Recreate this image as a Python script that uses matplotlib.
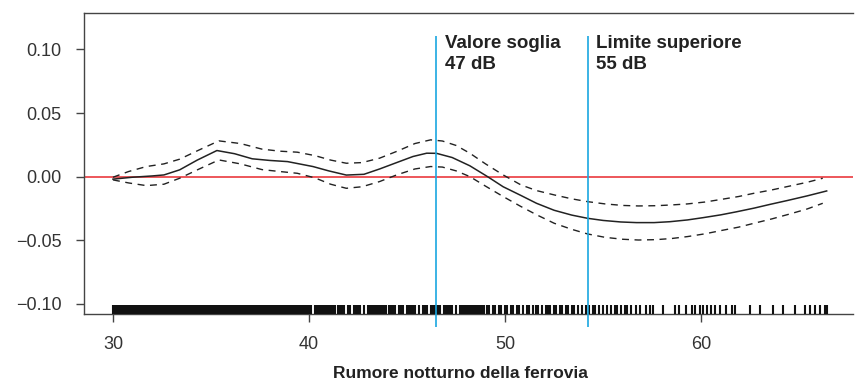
import matplotlib
matplotlib.use('Agg')
import matplotlib.pyplot as plt

plt.rcParams['font.family'] = ['Liberation Sans', 'DejaVu Sans']

# smoothed effect of night-time railway noise, with confidence band
fit_x = [30.0, 31.0, 32.0, 32.6, 33.4, 34.3, 35.3, 36.2, 37.1, 38.0, 38.9, 39.5, 40.2, 41.0, 41.9,
         42.8, 43.6, 44.5, 45.3, 46.0, 46.5, 47.3, 48.2, 49.1, 49.9, 50.8, 51.6, 52.5, 53.4, 54.2,
         55.0, 55.9, 56.7, 57.6, 58.4, 59.3, 60.1, 61.0, 61.8, 62.7, 63.5, 64.4, 65.4, 66.4]
fit_y = [-0.0020, -0.0005, 0.0005, 0.0013, 0.0053, 0.0130, 0.0205, 0.0180, 0.0140, 0.0127, 0.0118,
         0.0100, 0.0079, 0.0045, 0.0012, 0.0018, 0.0060, 0.0112, 0.0158, 0.0184, 0.0183, 0.0150,
         0.0085, 0.0000, -0.0080, -0.0148, -0.0210, -0.0265, -0.0303, -0.0328, -0.0345, -0.0357,
         -0.0362, -0.0362, -0.0355, -0.0341, -0.0323, -0.0301, -0.0277, -0.0248, -0.0219, -0.0188,
         -0.0152, -0.0113]

band_x = [30.0, 30.8, 31.7, 32.6, 33.4, 34.4, 35.4, 36.5, 37.6, 38.5, 39.4, 40.3, 41.1, 41.9, 42.7,
          43.6, 44.5, 45.4, 46.2, 46.8, 47.5, 48.2, 49.0, 49.9, 50.8, 51.6, 52.5, 53.4, 54.2, 55.1,
          56.0, 56.8, 57.7, 58.5, 59.3, 60.2, 61.0, 61.9, 62.7, 63.6, 64.5, 65.4, 66.2]
upper_y = [-0.0005, 0.0040, 0.0079, 0.0100, 0.0137, 0.0210, 0.0281, 0.0260, 0.0216, 0.0200, 0.0192,
           0.0165, 0.0130, 0.0105, 0.0110, 0.0145, 0.0200, 0.0260, 0.0289, 0.0280, 0.0245, 0.0184,
           0.0100, 0.0013, -0.0065, -0.0110, -0.0144, -0.0175, -0.0197, -0.0215, -0.0227, -0.0231,
           -0.0229, -0.0223, -0.0215, -0.0200, -0.0180, -0.0157, -0.0131, -0.0105, -0.0075, -0.0045,
           -0.0013]
lower_y = [-0.0026, -0.0050, -0.0071, -0.0060, -0.0013, 0.0060, 0.0131, 0.0100, 0.0055, 0.0040,
           0.0026, -0.0010, -0.0060, -0.0092, -0.0080, -0.0039, 0.0015, 0.0060, 0.0079, 0.0075,
           0.0045, 0.0000, -0.0075, -0.0157, -0.0235, -0.0300, -0.0367, -0.0415, -0.0451, -0.0478,
           -0.0493, -0.0499, -0.0496, -0.0487, -0.0472, -0.0450, -0.0425, -0.0398, -0.0367, -0.0333,
           -0.0295, -0.0255, -0.0210]

# observed noise levels (rug)
rug_x = [
    30.0, 30.1, 30.2, 30.3, 30.4, 30.5, 30.6, 30.7, 30.8, 30.9,
    31.0, 31.1, 31.2, 31.3, 31.4, 31.5, 31.6, 31.7, 31.8, 31.9,
    32.0, 32.1, 32.2, 32.3, 32.4, 32.5, 32.6, 32.7, 32.8, 32.9,
    33.0, 33.1, 33.2, 33.3, 33.4, 33.5, 33.6, 33.7, 33.8, 33.9,
    34.0, 34.1, 34.2, 34.3, 34.4, 34.5, 34.6, 34.7, 34.8, 34.9,
    35.0, 35.1, 35.2, 35.3, 35.4, 35.5, 35.6, 35.7, 35.8, 35.9,
    36.0, 36.1, 36.2, 36.3, 36.4, 36.5, 36.6, 36.7, 36.8, 36.9,
    37.0, 37.1, 37.2, 37.3, 37.4, 37.5, 37.6, 37.7, 37.8, 37.9,
    38.0, 38.1, 38.2, 38.3, 38.4, 38.5, 38.6, 38.7, 38.8, 38.9,
    39.0, 39.1, 39.2, 39.3, 39.4, 39.5, 39.6, 39.7, 39.8, 39.9,
    40.0, 40.1, 40.3, 40.4, 40.5, 40.6, 40.7, 40.8, 40.9,
    41.0, 41.1, 41.2, 41.3, 41.5, 41.6, 41.7, 41.8,
    42.0, 42.1, 42.3, 42.4, 42.5, 42.6, 42.8,
    43.0, 43.1, 43.2, 43.3, 43.4, 43.5, 43.6, 43.7, 43.8, 43.9,
    44.1, 44.2, 44.3, 44.4, 44.6, 44.7, 44.8,
    45.0, 45.1, 45.2, 45.3, 45.4, 45.6, 45.8, 45.9,
    46.0, 46.2, 46.3, 46.4, 46.5, 46.6, 46.7, 46.9,
    47.0, 47.1, 47.2, 47.3, 47.5, 47.7, 47.8, 47.9,
    48.0, 48.1, 48.2, 48.3, 48.4, 48.5, 48.6, 48.7, 48.8, 48.9,
    49.1, 49.2, 49.4, 49.5, 49.7, 49.8,
    50.0, 50.1, 50.3, 50.4, 50.6, 50.7, 50.9,
    51.1, 51.2, 51.4, 51.6, 51.7, 51.9,
    52.1, 52.2, 52.3, 52.5, 52.6, 52.8, 52.9,
    53.1, 53.2, 53.4, 53.5, 53.7, 53.9,
    54.1, 54.3, 54.5, 54.6, 54.8, 55.0, 55.2, 55.4, 55.6, 55.7,
    55.9, 56.1, 56.2, 56.4, 56.7, 56.9, 57.2, 57.4,
    57.55, 58.06, 58.66, 58.88, 59.25, 59.51, 59.68, 59.93, 60.1, 60.31,
    60.49, 60.7, 60.95, 61.29, 61.55, 61.72, 62.48, 62.99, 63.67, 64.18,
    64.78, 65.29, 65.54, 65.8, 66.05, 66.31, 66.43,
]

thresholds = [46.5, 54.24]
threshold_labels = ['Valore soglia\n47 dB', 'Limite superiore\n55 dB']

x_ticks = [30, 40, 50, 60]
y_ticks = [-0.10, -0.05, 0.00, 0.05, 0.10]

fig = plt.figure(figsize=(8.55, 3.82), dpi=100)
ax = fig.add_axes([0.0982, 0.178, 0.8994, 0.788])

ax.set_xlim(28.52, 67.74)
ax.set_ylim(-0.1081, 0.1287)

ax.axhline(0, color='#e8282e', lw=1.1, zorder=2)

ax.plot(fit_x, fit_y, color='#222222', lw=1.1, zorder=3)
ax.plot(band_x, upper_y, color='#222222', lw=1.0, dashes=(5, 4), zorder=3)
ax.plot(band_x, lower_y, color='#222222', lw=1.0, dashes=(5, 4), zorder=3)

ax.vlines(rug_x, -0.1081, -0.1010, color='#111111', lw=1.5, zorder=3)

for xv, lab in zip(thresholds, threshold_labels):
    ax.vlines(xv, -0.1185, 0.1108, color='#1aa7e0', lw=1.2, clip_on=False, zorder=4)
    ax.text(xv + 0.42, 0.1112, lab, va='top', ha='left', fontsize=13.5,
            fontweight='bold', color='#222222', linespacing=1.3)

ax.set_xticks(x_ticks)
ax.set_yticks(y_ticks)
ax.set_yticklabels(['\u22120.10', '\u22120.05', '0.00', '0.05', '0.10'])
ax.tick_params(axis='both', direction='out', length=6, width=1.0, color='#444444',
               labelsize=13, labelcolor='#333333')
ax.tick_params(axis='x', pad=10)
ax.tick_params(axis='y', pad=10)

for side in ['left', 'bottom', 'top']:
    ax.spines[side].set_color('#444444')
    ax.spines[side].set_linewidth(1.0)
ax.spines['right'].set_visible(False)

fig.text(460 / 855, 0.021, 'Rumore notturno della ferrovia', ha='center', va='center',
         fontsize=12.5, fontweight='bold', color='#222222')

fig.savefig('out.png', dpi=100)
